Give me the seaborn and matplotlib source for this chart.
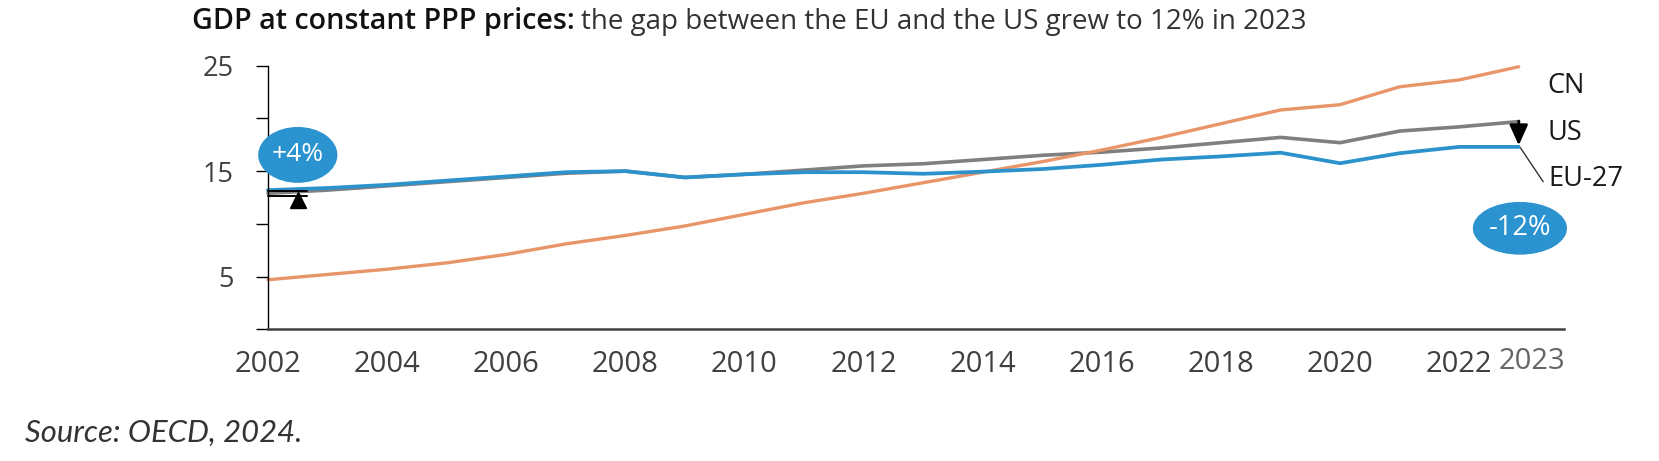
import matplotlib
matplotlib.use("Agg")
import matplotlib.pyplot as plt
import seaborn as sns
import pandas as pd
from matplotlib.patches import Ellipse
from matplotlib.transforms import blended_transform_factory

# ---------------- data ----------------
years = list(range(2002, 2024))
eu27 = [13.2, 13.4, 13.7, 14.1, 14.5, 14.9, 15.0, 14.4, 14.7, 14.9, 14.9, 14.75, 14.95,
        15.2, 15.6, 16.1, 16.4, 16.75, 15.75, 16.7, 17.3, 17.3]
us = [12.9, 13.2, 13.6, 14.0, 14.4, 14.8, 15.0, 14.4, 14.7, 15.1, 15.5, 15.7, 16.1,
      16.5, 16.8, 17.2, 17.7, 18.2, 17.7, 18.8, 19.2, 19.7]
cn = [4.7, 5.2, 5.7, 6.3, 7.1, 8.1, 8.9, 9.8, 10.9, 12.0, 12.9, 13.9, 14.9,
      15.9, 17.0, 18.2, 19.5, 20.8, 21.3, 23.0, 23.65, 24.9]
series_names = ["US", "CN", "EU-27"]
series_colors = {"US": "#7f7f7f", "CN": "#e8956a", "EU-27": "#2b92cc"}
xtick_years = list(range(2002, 2023, 2))
yticks = [0, 5, 10, 15, 20, 25]
ytick_labels = ["", "5", "", "15", "", "25"]
title_bold = "GDP at constant PPP prices:"
title_rest = "the gap between the EU and the US grew to 12% in 2023"
source_text = "Source: OECD, 2024."

df = pd.DataFrame({
    "year": years * 3,
    "value": us + cn + eu27,
    "region": ["US"] * len(years) + ["CN"] * len(years) + ["EU-27"] * len(years),
})

# ---------------- figure ----------------
sns.set_theme(style="white")
plt.rcParams["font.family"] = ["Open Sans", "DejaVu Sans"]

W, H = 1659, 461
fig = plt.figure(figsize=(W / 100, H / 100), dpi=100)
ax = fig.add_axes([268 / W, 1 - 329.3 / H, (1564 - 268) / W, (329.3 - 65.7) / H])

lws = {"US": 2.6, "CN": 2.4, "EU-27": 2.7}
for name in series_names:
    sub = df[df["region"] == name]
    sns.lineplot(data=sub, x="year", y="value", color=series_colors[name],
                 linewidth=lws[name], ax=ax, legend=False, clip_on=False)

ax.set_xlim(2002, 2023.76)
ax.set_ylim(0, 25)
ax.set_xlabel("")
ax.set_ylabel("")

# spines
for s in ["top", "right"]:
    ax.spines[s].set_visible(False)
ax.spines["left"].set_color("#000000")
ax.spines["left"].set_linewidth(1.0)
ax.spines["bottom"].set_color("#404040")
ax.spines["bottom"].set_linewidth(1.8)

# ticks
ax.set_yticks(yticks)
ax.set_yticklabels(ytick_labels)
ax.tick_params(axis="y", direction="out", length=8.5, width=1.0, color="#000000",
               pad=16, labelsize=19.5, labelcolor="#404040", left=True)
ax.set_xticks(xtick_years)
ax.set_xticklabels([str(y) for y in xtick_years])
ax.tick_params(axis="x", length=0, pad=15, labelsize=21, labelcolor="#404040", bottom=False)

# gray 2023 label
trans = blended_transform_factory(ax.transData, ax.transAxes)
ax.text(2023.22, -0.122, "2023", transform=trans, ha="center", va="center",
        fontsize=21, color="#666666")

# series labels
lab_kw = dict(fontsize=19.5, color="#1a1a1a", ha="left", va="center")
ax.text(2023.48, 23.1, "CN", **lab_kw)
ax.text(2023.48, 18.6, "US", **lab_kw)
ax.text(2023.50, 14.3, "EU-27", **lab_kw)
ax.plot([2023.03, 2023.41], [17.2, 14.0], color="#333333", lw=1.0, clip_on=False)

# down arrow US -> EU at 2023
ax.annotate("", xy=(2023.0, 17.45), xytext=(2023.0, 19.75),
            arrowprops=dict(arrowstyle="-|>,head_width=0.28,head_length=0.62",
                            color="black", lw=2.0, mutation_scale=20,
                            shrinkA=0, shrinkB=0), annotation_clip=False)

# left marker: bracket lines and up triangle
ax.plot([2002, 2002.65], [13.07, 13.07], color="black", lw=1.4, clip_on=False)
ax.plot([2002, 2002.65], [12.68, 12.68], color="black", lw=1.4, clip_on=False)
ax.plot([2002.51], [12.25], marker="^", color="black", markersize=12, clip_on=False)

# badges
badge_blue = "#2b93cf"
e1 = Ellipse((2002.5, 16.54), width=1.33, height=5.3, facecolor=badge_blue,
             edgecolor="none", clip_on=False, zorder=5)
ax.add_patch(e1)
ax.text(2002.5, 16.6, "+4%", color="white", fontsize=19, ha="center", va="center", zorder=6)
e2 = Ellipse((2023.02, 9.58), width=1.58, height=5.0, facecolor=badge_blue,
             edgecolor="none", clip_on=False, zorder=5)
ax.add_patch(e2)
ax.text(2023.02, 9.65, "-12%", color="white", fontsize=19.5, ha="center", va="center", zorder=6)

# titles
t1 = fig.text(191.7 / W, 1 - 29 / H, title_bold, fontsize=18, fontweight="semibold",
              color="#111111", ha="left", va="baseline")
t2 = fig.text(581 / W, 1 - 29 / H, title_rest, fontsize=18,
              color="#333333", ha="left", va="baseline")
src = fig.text(25 / W, 1 - 441.7 / H, source_text, fontsize=20, fontstyle="italic",
               fontweight="normal", family=["Lato", "DejaVu Sans"],
               color="#333333", ha="left", va="baseline")


def fit(txt, target):
    for _ in range(3):
        fig.canvas.draw()
        r = fig.canvas.get_renderer()
        w = txt.get_window_extent(r).width
        txt.set_fontsize(txt.get_fontsize() * target / w)


fit(t1, 575 - 191.7)
fit(t2, 1308 - 581)
fit(src, 301.7 - 25)

fig.savefig("out.png", dpi=100)
